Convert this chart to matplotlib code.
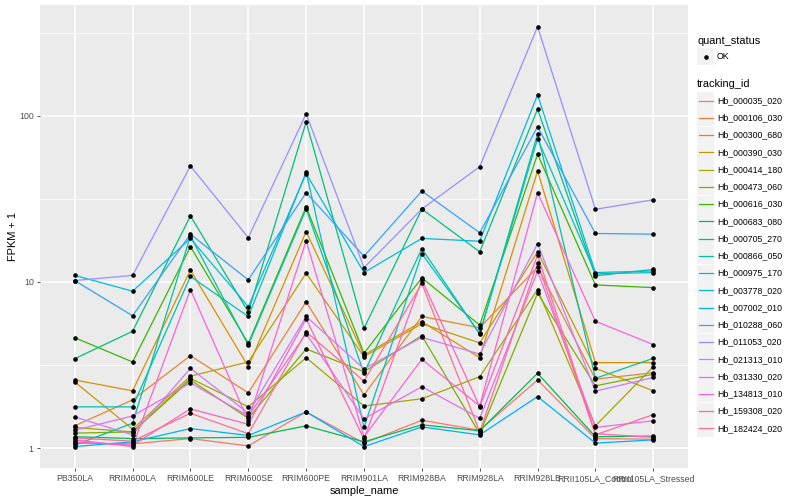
import matplotlib
matplotlib.use("Agg")
import matplotlib.pyplot as plt
from matplotlib.patches import Rectangle
from matplotlib.lines import Line2D

plt.rcParams['font.family'] = ['Liberation Sans', 'DejaVu Sans']

samples = ["PB350LA", "RRIM600LA", "RRIM600LE", "RRIM600SE", "RRIM600PE", "RRIM901LA",
           "RRIM928BA", "RRIM928LA", "RRIM928LB", "RRII105LA_Control", "RRII105LA_Stressed"]

tracking_ids = ["Hb_000035_020", "Hb_000106_030", "Hb_000300_680", "Hb_000390_030",
                "Hb_000414_180", "Hb_000473_060", "Hb_000616_030", "Hb_000683_080",
                "Hb_000705_270", "Hb_000866_050", "Hb_000975_170", "Hb_003778_020",
                "Hb_007002_010", "Hb_010288_060", "Hb_011053_020", "Hb_021313_010",
                "Hb_031330_020", "Hb_134813_010", "Hb_159308_020", "Hb_182424_020"]

colors = ["#F8766D", "#EA8331", "#D89000", "#C09B00", "#A3A500", "#7CAE00", "#39B600",
          "#00BB4E", "#00BF7D", "#00C1A3", "#00BFC4", "#00BAE0", "#00B0F6", "#35A2FF",
          "#9590FF", "#C77CFF", "#E76BF3", "#FA62DB", "#FF62BC", "#FF6C91"]

# FPKM + 1 values per tracking_id, in sample order
Hb_000035_020 = [1.07, 1.06, 1.14, 1.03, 1.65, 1.07, 1.47, 1.28, 2.57, 1.14, 1.13]
Hb_000106_030 = [1.36, 1.95, 3.6, 2.15, 7.6, 2.09, 6.2, 5.3, 12.3, 2.6, 2.84]
Hb_000300_680 = [2.57, 2.21, 11.8, 3.09, 20.1, 3.63, 5.77, 3.5, 46.6, 3.27, 3.27]
Hb_000390_030 = [2.5, 1.30, 2.71, 3.3, 11.3, 3.55, 5.6, 4.3, 15.2, 3.02, 2.21]
Hb_000414_180 = [1.33, 1.25, 2.63, 1.77, 3.5, 1.79, 1.98, 2.69, 9.0, 1.36, 3.09]
Hb_000473_060 = [1.23, 1.25, 2.57, 1.51, 3.95, 2.88, 4.75, 1.22, 8.55, 2.37, 2.78]
Hb_000616_030 = [4.62, 3.3, 16.3, 4.27, 28.4, 3.72, 10.6, 5.5, 58.8, 9.6, 9.25]
Hb_000683_080 = [1.17, 1.14, 1.15, 1.16, 1.36, 1.09, 1.38, 1.27, 2.82, 1.17, 1.18]
Hb_000705_270 = [3.45, 5.05, 25.0, 6.6, 92.0, 5.26, 27.5, 15.2, 110.0, 10.9, 11.9]
Hb_000866_050 = [1.04, 1.41, 18.9, 4.17, 27.5, 2.82, 15.9, 4.84, 78.0, 2.63, 3.47]
Hb_000975_170 = [1.77, 1.77, 10.8, 6.2, 45.8, 1.33, 14.8, 4.9, 73.0, 11.2, 11.4]
Hb_003778_020 = [10.96, 8.8, 18.3, 7.1, 45.0, 11.4, 18.3, 17.6, 134.0, 11.4, 11.65]
Hb_007002_010 = [1.02, 1.09, 1.31, 1.19, 1.65, 1.02, 1.34, 1.2, 2.04, 1.07, 1.12]
Hb_010288_060 = [10.2, 6.26, 19.4, 10.3, 34.5, 14.3, 35.3, 19.8, 86.0, 19.6, 19.4]
Hb_011053_020 = [10.2, 10.96, 50.0, 18.5, 103.0, 12.2, 27.5, 49.5, 345.0, 27.4, 31.3]
Hb_021313_010 = [1.54, 1.2, 3.02, 1.62, 6.2, 3.0, 4.64, 3.68, 17.0, 2.2, 2.66]
Hb_031330_020 = [1.28, 1.56, 2.47, 1.56, 4.88, 1.5, 2.34, 1.51, 11.6, 1.33, 1.46]
Hb_134813_010 = [1.12, 1.02, 9.0, 1.46, 17.7, 1.17, 3.42, 1.79, 34.5, 5.8, 4.2]
Hb_159308_020 = [1.09, 1.04, 1.72, 1.39, 6.0, 1.13, 10.3, 1.77, 14.5, 1.22, 1.16]
Hb_182424_020 = [1.15, 1.1, 1.62, 1.22, 5.0, 2.53, 9.8, 1.25, 13.0, 1.2, 1.59]

series = [Hb_000035_020, Hb_000106_030, Hb_000300_680, Hb_000390_030, Hb_000414_180,
          Hb_000473_060, Hb_000616_030, Hb_000683_080, Hb_000705_270, Hb_000866_050,
          Hb_000975_170, Hb_003778_020, Hb_007002_010, Hb_010288_060, Hb_011053_020,
          Hb_021313_010, Hb_031330_020, Hb_134813_010, Hb_159308_020, Hb_182424_020]

W, H = 800, 500
fig = plt.figure(figsize=(8, 5), dpi=100)
pl, pr, pt, pb = 40, 688, 5, 468
ax = fig.add_axes([pl / W, 1 - pb / H, (pr - pl) / W, (pb - pt) / H])
ax.set_facecolor("#EBEBEB")

xs = list(range(len(samples)))
for vals, c in zip(series, colors):
    ax.plot(xs, vals, color=c, lw=0.9, zorder=3)
for vals in series:
    ax.plot(xs, vals, ls="none", marker="o", ms=2.3, color="black", zorder=4)

ax.set_yscale("log")
ax.set_ylim(0.758, 466)
ax.set_xlim(-0.6, len(samples) - 0.4)
ax.set_yticks([1, 10, 100])
ax.set_yticklabels(["1", "10", "100"])
ax.set_yticks([10 ** 0.5, 10 ** 1.5, 10 ** 2.5], minor=True)
ax.set_yticklabels([], minor=True)
ax.set_xticks(xs)
ax.set_xticklabels(samples)

ax.grid(True, which="major", color="white", lw=1.1, zorder=0)
ax.grid(True, which="minor", axis="y", color="white", lw=0.5, zorder=0)
ax.set_axisbelow(True)
for s in ax.spines.values():
    s.set_visible(False)
ax.tick_params(which="major", length=2.5, width=0.6, color="#333333",
               labelsize=6.3, labelcolor="#4D4D4D", pad=2)
ax.tick_params(which="minor", length=0)

ax.set_xlabel("sample_name", fontsize=7.9, labelpad=2)
ax.set_ylabel("FPKM + 1", fontsize=7.9, labelpad=1)

# legend (drawn manually, ggplot style)
def fx(px):
    return px / W

def fy(py):
    return 1 - py / H

kx0, kw = 697, 17
fig.text(fx(kx0), fy(40.5), "quant_status", fontsize=7.9, va="center", ha="left")
fig.add_artist(Rectangle((fx(kx0), fy(56.5 + kw / 2)), kw / W, kw / H,
                         facecolor="#F2F2F2", edgecolor="none"))
fig.add_artist(Line2D([fx(kx0 + kw / 2)], [fy(56.5)], marker="o", ms=2.3,
                      color="black", ls="none"))
fig.text(fx(717), fy(56.5), "OK", fontsize=6.3, va="center", ha="left")

fig.text(fx(kx0), fy(84), "tracking_id", fontsize=7.9, va="center", ha="left")
y0, dy = 100.7, 17.25
for i, (tid, c) in enumerate(zip(tracking_ids, colors)):
    yc = y0 + i * dy
    fig.add_artist(Rectangle((fx(kx0), fy(yc + kw / 2)), kw / W, kw / H,
                             facecolor="#F2F2F2", edgecolor="none"))
    fig.add_artist(Line2D([fx(kx0 + 1.5), fx(kx0 + kw - 1.5)], [fy(yc), fy(yc)],
                          color=c, lw=0.9))
    fig.text(fx(717), fy(yc), tid, fontsize=6.3, va="center", ha="left")

fig.savefig("out.png", dpi=100, facecolor="white")
